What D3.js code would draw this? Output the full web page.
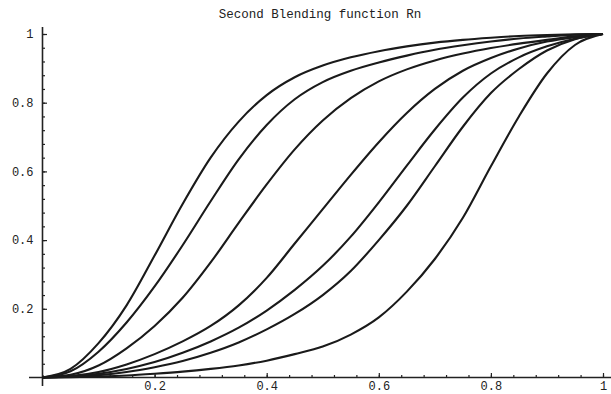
<!DOCTYPE html>
<html>
<head>
<meta charset="utf-8">
<script src="https://cdn.jsdelivr.net/npm/d3@7"></script>
<style>
  html, body { margin: 0; padding: 0; background: #fff; }
  svg { display: block; }
  text { font-family: "Liberation Mono", "DejaVu Sans Mono", monospace; fill: #222; }
</style>
</head>
<body>
<div id="chart"></div>
<script>
// sample positions along t
const tValues = [0, 0.05, 0.1, 0.15, 0.2, 0.25, 0.3, 0.35, 0.4, 0.45, 0.5,
                 0.55, 0.6, 0.65, 0.7, 0.75, 0.8, 0.85, 0.9, 0.95, 1];

// left curve to right curve
const rn1 = [0, 0.025, 0.1, 0.21, 0.355, 0.505, 0.64, 0.745, 0.822, 0.874, 0.908,
             0.932, 0.95, 0.964, 0.975, 0.983, 0.989, 0.994, 0.997, 0.999, 1];
const rn2 = [0, 0.018, 0.075, 0.16, 0.265, 0.385, 0.513, 0.635, 0.735, 0.81, 0.86,
             0.893, 0.917, 0.937, 0.954, 0.967, 0.978, 0.987, 0.993, 0.998, 1];
const rn3 = [0, 0.008, 0.035, 0.085, 0.15, 0.232, 0.335, 0.45, 0.562, 0.664, 0.748,
             0.813, 0.862, 0.897, 0.923, 0.943, 0.959, 0.972, 0.983, 0.993, 1];
const rn4 = [0, 0.004, 0.016, 0.038, 0.068, 0.105, 0.15, 0.21, 0.29, 0.39, 0.49,
             0.59, 0.685, 0.77, 0.84, 0.893, 0.93, 0.958, 0.978, 0.991, 1];
const rn5 = [0, 0.003, 0.011, 0.025, 0.045, 0.072, 0.105, 0.145, 0.195, 0.255, 0.325,
             0.41, 0.51, 0.617, 0.722, 0.815, 0.885, 0.932, 0.964, 0.986, 1];
const rn6 = [0, 0.002, 0.007, 0.016, 0.03, 0.048, 0.072, 0.102, 0.14, 0.185, 0.24,
             0.31, 0.4, 0.5, 0.615, 0.73, 0.828, 0.898, 0.952, 0.985, 1];
const rn7 = [0, 0.001, 0.003, 0.006, 0.011, 0.017, 0.025, 0.035, 0.049, 0.068, 0.09,
             0.125, 0.175, 0.25, 0.345, 0.465, 0.615, 0.76, 0.885, 0.968, 1];

const allSeries = [rn1, rn2, rn3, rn4, rn5, rn6, rn7];

const majorTicks = [0.2, 0.4, 0.6, 0.8, 1];
const minorTicks = d3.range(0, 1.0001, 0.04);
const title = "Second Blending function Rn";

const width = 611, height = 394;

const svg = d3.select('#chart').append('svg')
  .attr('width', width)
  .attr('height', height);

const x = d3.scaleLinear().domain([0, 1]).range([42.5, 603]);
const y = d3.scaleLinear().domain([0, 1]).range([377.5, 34]);

const fmt = d => d === 1 ? '1' : d.toFixed(1);

// minor ticks
svg.append('g')
  .attr('transform', `translate(0,${y(0)})`)
  .call(d3.axisBottom(x).tickValues(minorTicks).tickFormat('').tickSizeInner(-2.5).tickSizeOuter(0))
  .call(g => g.select('.domain').remove());
svg.append('g')
  .attr('transform', `translate(${x(0)},0)`)
  .call(d3.axisLeft(y).tickValues(minorTicks).tickFormat('').tickSizeInner(-2.5).tickSizeOuter(0))
  .call(g => g.select('.domain').remove());

// major ticks + labels
const xAxis = svg.append('g')
  .attr('transform', `translate(0,${y(0)})`)
  .call(d3.axisBottom(x).tickValues(majorTicks).tickFormat(fmt).tickSizeInner(-4.5).tickSizeOuter(0).tickPadding(3.5));
xAxis.select('.domain').remove();

const yAxis = svg.append('g')
  .attr('transform', `translate(${x(0)},0)`)
  .call(d3.axisLeft(y).tickValues(majorTicks).tickFormat(fmt).tickSizeInner(-4.5).tickSizeOuter(0).tickPadding(9));
yAxis.select('.domain').remove();

svg.selectAll('.tick line').attr('stroke', '#222').attr('stroke-width', 1.2);
svg.selectAll('.tick text')
  .style('font-family', '"Liberation Mono", monospace')
  .style('font-size', '12px')
  .attr('fill', '#222');

// axis lines, running a little past the origin like the original
svg.append('line')
  .attr('x1', 29).attr('x2', 611)
  .attr('y1', y(0)).attr('y2', y(0))
  .attr('stroke', '#222').attr('stroke-width', 1.6);
svg.append('line')
  .attr('x1', x(0)).attr('x2', x(0))
  .attr('y1', 27).attr('y2', 386)
  .attr('stroke', '#222').attr('stroke-width', 1.6);

// curves
const line = d3.line()
  .x((d, i) => x(tValues[i]))
  .y(d => y(d))
  .curve(d3.curveMonotoneX);

svg.append('g')
  .selectAll('path')
  .data(allSeries)
  .enter().append('path')
  .attr('d', line)
  .attr('fill', 'none')
  .attr('stroke', '#1a1a1a')
  .attr('stroke-width', 2.1)
  .attr('stroke-linejoin', 'round');

svg.append('text')
  .attr('x', 320)
  .attr('y', 18)
  .attr('text-anchor', 'middle')
  .style('font-size', '12.5px')
  .text(title);
</script>
</body>
</html>
